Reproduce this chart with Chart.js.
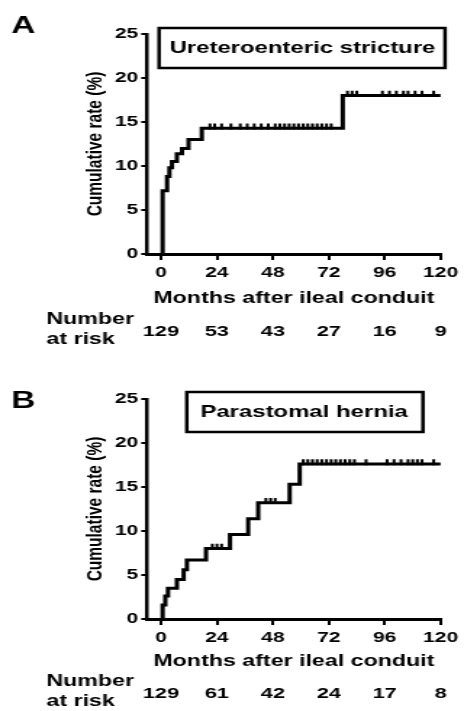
<!DOCTYPE html>
<html>
<head>
<meta charset="utf-8">
<script src="https://cdn.jsdelivr.net/npm/chart.js@4.4.0/dist/chart.umd.min.js"></script>
<style>
  body { margin: 0; background: #fff; width: 464px; height: 711px; overflow: hidden; position: relative; }
  /* the original figure is stretched sideways, so each panel is drawn narrow and widened */
  .panel { position: absolute; left: 0; width: 320px; transform: scaleX(1.45); transform-origin: 0 0; }
</style>
</head>
<body>
<div class="panel" style="top:0"><canvas id="chartA" width="320" height="360"></canvas></div>
<div class="panel" style="top:365px"><canvas id="chartB" width="320" height="346"></canvas></div>

<script>
const monthTicks = [0, 24, 48, 72, 96, 120];

// A: ureteroenteric stricture
const strictureMonths = [0, 0.7, 2.6, 3.6, 4.7, 6.8, 9, 11.8, 17.5, 78, 120];
const strictureRate   = [0, 7.2, 8.8, 9.8, 10.5, 11.4, 12.0, 13.0, 14.3, 18.0, 18.0];
const strictureCensored = [21, 23, 26, 30, 34, 37, 40, 43, 46, 49, 51, 53, 55, 57, 59, 61, 63, 65, 67, 69, 71, 73,
                           80, 82, 84, 95, 98, 101, 104, 106, 109, 112, 117];
const strictureAtRisk = [129, 53, 43, 27, 16, 9];

// B: parastomal hernia
const herniaMonths = [0, 0.7, 1.85, 3, 6.8, 9.7, 11.1, 19.3, 29.6, 37.4, 41.7, 55.2, 59.5, 120];
const herniaRate   = [0, 1.6, 2.6, 3.5, 4.5, 5.6, 6.7, 8.0, 9.6, 11.4, 13.2, 15.3, 17.6, 17.6];
const herniaCensored = [22, 24, 26, 45, 47, 49, 61, 63, 65, 67, 69, 71, 73, 75, 77, 79, 81, 83, 88,
                        97, 100, 103, 106, 108, 110, 112, 117];
const herniaAtRisk = [129, 61, 42, 24, 17, 8];

const FONT = '"Liberation Sans", Arial, sans-serif';

function rateAt(months, rates, t) {
  let v = rates[0];
  for (let i = 0; i < months.length; i++) {
    if (months[i] <= t) v = rates[i];
  }
  return v;
}

const annotate = {
  id: 'annotate',
  afterDraw(chart, args, opts) {
    const ctx = chart.ctx;
    const xs = chart.scales.x;
    ctx.save();
    ctx.fillStyle = '#000';
    ctx.textBaseline = 'middle';

    ctx.font = 'bold 23px ' + FONT;
    ctx.textAlign = 'center';
    ctx.fillText(opts.letter, 16, opts.letterY);

    const b = opts.box;
    ctx.fillStyle = '#fff';
    ctx.fillRect(b.left, b.top, b.right - b.left, b.bottom - b.top);
    ctx.lineWidth = 2.5;
    ctx.strokeStyle = '#000';
    ctx.strokeRect(b.left, b.top, b.right - b.left, b.bottom - b.top);
    ctx.fillStyle = '#000';
    ctx.font = 'bold 16.5px ' + FONT;
    ctx.fillText(opts.title, b.textX, (b.top + b.bottom) / 2);

    ctx.font = 'bold 15px ' + FONT;
    opts.atRisk.forEach((n, i) => {
      ctx.fillText(String(n), xs.getPixelForValue(monthTicks[i]), opts.riskY);
    });
    ctx.textAlign = 'left';
    ctx.font = 'bold 16px ' + FONT;
    ctx.fillText('Number', 32, opts.riskY - 12);
    ctx.fillText('at risk', 32, opts.riskY + 8);
    ctx.restore();
  }
};

function makeChart(id, months, rates, censored, opts, height, xTitleY) {
  return new Chart(document.getElementById(id).getContext('2d'), {
    type: 'line',
    data: {
      datasets: [{
        data: months.map((m, i) => ({ x: m, y: rates[i] })),
        stepped: 'before',
        borderColor: '#000',
        borderWidth: 3,
        pointRadius: 0,
        fill: false
      }, {
        type: 'scatter',
        data: censored.map(t => ({ x: t, y: rateAt(months, rates, t) + 0.2 })),
        pointStyle: 'line',
        rotation: 90,
        radius: 3,
        borderColor: '#000',
        borderWidth: 2
      }]
    },
    options: {
      responsive: false,
      animation: false,
      devicePixelRatio: 1,
      layout: { padding: { left: 0, right: 15.2, top: 34, bottom: 0 } },
      plugins: { legend: { display: false }, tooltip: { enabled: false }, annotate: opts },
      scales: {
        x: {
          type: 'linear',
          min: -6,
          max: 120,
          afterBuildTicks: s => { s.ticks = monthTicks.map(v => ({ value: v })); },
          afterFit: s => { s.height = height - 254; },
          border: { color: '#000', width: 3 },
          grid: { drawOnChartArea: false, color: '#000', lineWidth: 2, tickLength: 6 },
          ticks: { color: '#000', font: { family: FONT, size: 14.5, weight: 'bold' }, padding: 4, maxRotation: 0 },
          title: {
            display: true,
            text: 'Months after ileal conduit',
            color: '#000',
            font: { family: FONT, size: 16, weight: 'bold' },
            padding: { top: 0, bottom: height - xTitleY - 9.6 }
          }
        },
        y: {
          min: 0,
          max: 25,
          afterFit: s => { s.width = 101.4; },
          border: { color: '#000', width: 2.5 },
          grid: { drawOnChartArea: false, color: '#000', lineWidth: 2, tickLength: 4 },
          ticks: { stepSize: 5, color: '#000', font: { family: FONT, size: 14.5, weight: 'bold' }, padding: 2 },
          title: {
            display: true,
            text: 'Cumulative rate (%)',
            color: '#000',
            font: { family: FONT, size: 15.5, weight: 'bold' },
            padding: { top: 56, bottom: 0 }
          }
        }
      }
    },
    plugins: [annotate]
  });
}

makeChart('chartA', strictureMonths, strictureRate, strictureCensored, {
  letter: 'A', letterY: 27, title: 'Ureteroenteric stricture',
  box: { left: 109.7, top: 28, right: 306.9, bottom: 68, textX: 208.6 },
  atRisk: strictureAtRisk, riskY: 332
}, 360, 299);

makeChart('chartB', herniaMonths, herniaRate, herniaCensored, {
  letter: 'B', letterY: 37, title: 'Parastomal hernia',
  box: { left: 128.8, top: 27, right: 291.7, bottom: 67, textX: 209.7 },
  atRisk: herniaAtRisk, riskY: 329
}, 346, 297);
</script>
</body>
</html>
